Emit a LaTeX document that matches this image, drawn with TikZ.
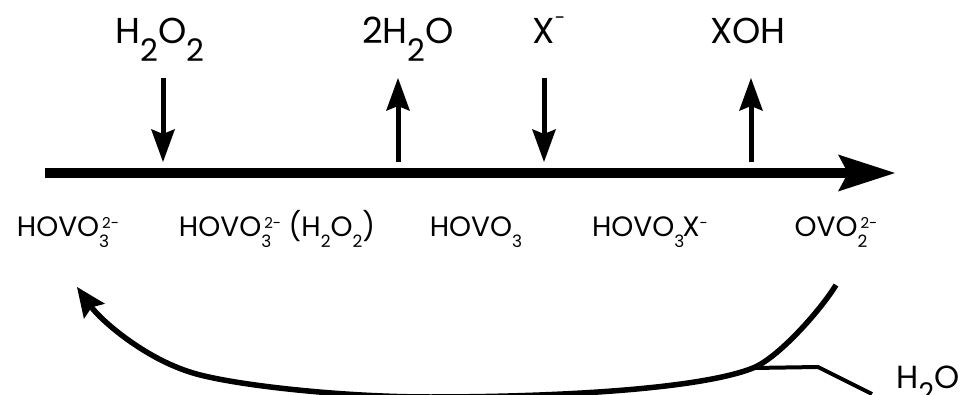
\documentclass[tikz,border=0pt]{standalone}
\usepackage{fontspec}
\setmainfont{Poppins}
\usetikzlibrary{arrows.meta,calc}

\newcommand{\subidx}[1]{\raisebox{-10.5pt}{\fontsize{17}{17}\selectfont #1}}
\newcommand{\supidx}[1]{\raisebox{9pt}{\fontsize{15}{15}\selectfont #1}}
\newcommand{\subsupidx}[2]{\rlap{\subidx{#1}}\kern3pt\supidx{#2}}
\newcommand{\bigsubidx}[1]{\raisebox{-18pt}{\fontsize{31}{31}\selectfont #1}}
\newcommand{\bigsupidx}[1]{\raisebox{19pt}{\fontsize{19}{19}\selectfont #1}}

\begin{document}
\begin{tikzpicture}[x=1pt,y=1pt,
  reagent/.style={anchor=base, inner sep=0pt, font=\fontsize{36}{40}\selectfont},
  species/.style={anchor=base, inner sep=0pt, font=\fontsize{28}{32}\selectfont},
  feed/.style={line width=5pt, -{Stealth[length=33pt,width=24pt,inset=5pt,line width=0pt]}},
  mainline/.style={line width=10pt, -{Stealth[length=57pt,width=37pt,inset=10pt,line width=0pt]}},
  regen/.style={line width=5.5pt, -{Stealth[length=30pt,width=26pt,inset=5pt,line width=0pt]}},
  branch/.style={line width=4pt, line join=round}]
\useasboundingbox (0,0) rectangle (967,394);

% reagents above the line
\node[reagent] (hpo) at (160,350) {H\bigsubidx{2}O\bigsubidx{2}};
\node[reagent] (water) at (408,350) {2H\bigsubidx{2}O};
\node[reagent] (halide) at (549,350) {X\bigsupidx{-}};
\node[reagent] (xoh) at (748,350) {XOH};

% species below the line
\node[species] (s1) at (68,157) {HOVO\subsupidx{3}{2-}};
\node[species] (s2) at (277,157) {HOVO\subsupidx{3}{2-} (H\subidx{2}O\subidx{2})};
\node[species] (s3) at (476,157) {HOVO\subidx{3}};
\node[species] (s4) at (650,157) {HOVO\subidx{3}\kern-2pt X\supidx{-}};
\node[species] (s5) at (836,157) {OVO\subsupidx{2}{2-}};
\node[species, font=\fontsize{32}{36}\selectfont] (h2o) at (928,6) {H\raisebox{-14pt}{\fontsize{27}{27}\selectfont 2}O};

% reaction line
\coordinate (start) at (45,221);
\coordinate (finish) at (895,221);
\draw[mainline] (start) -- (finish);

% in and out arrows
\coordinate (q1) at (163,316); \coordinate (p1) at (163,232);
\coordinate (q2) at (398,316); \coordinate (p2) at (398,232);
\coordinate (q3) at (544,316); \coordinate (p3) at (544,232);
\coordinate (q4) at (751,316); \coordinate (p4) at (751,232);
\draw[feed] (q1) -- (p1);
\draw[feed] (p2) -- (q2);
\draw[feed] (q3) -- (p3);
\draw[feed] (p4) -- (q4);

% return curve
\coordinate (from5) at (836,109);
\coordinate (join) at (753,26);
\coordinate (low) at (430,-3);
\coordinate (knee) at (193,21);
\coordinate (to1) at (77,107);
\draw[regen] (from5) .. controls (820,83) and (778,36) .. (join)
  .. controls (700,5) and (560,-3) .. (low)
  .. controls (340,-3) and (233,9) .. (knee)
  .. controls (143,36) and (100,75) .. (to1);
\coordinate (bend) at (818,27);
\coordinate (out) at (872,0);
\draw[branch] (join) -- (bend) -- (out);
\end{tikzpicture}
\end{document}
